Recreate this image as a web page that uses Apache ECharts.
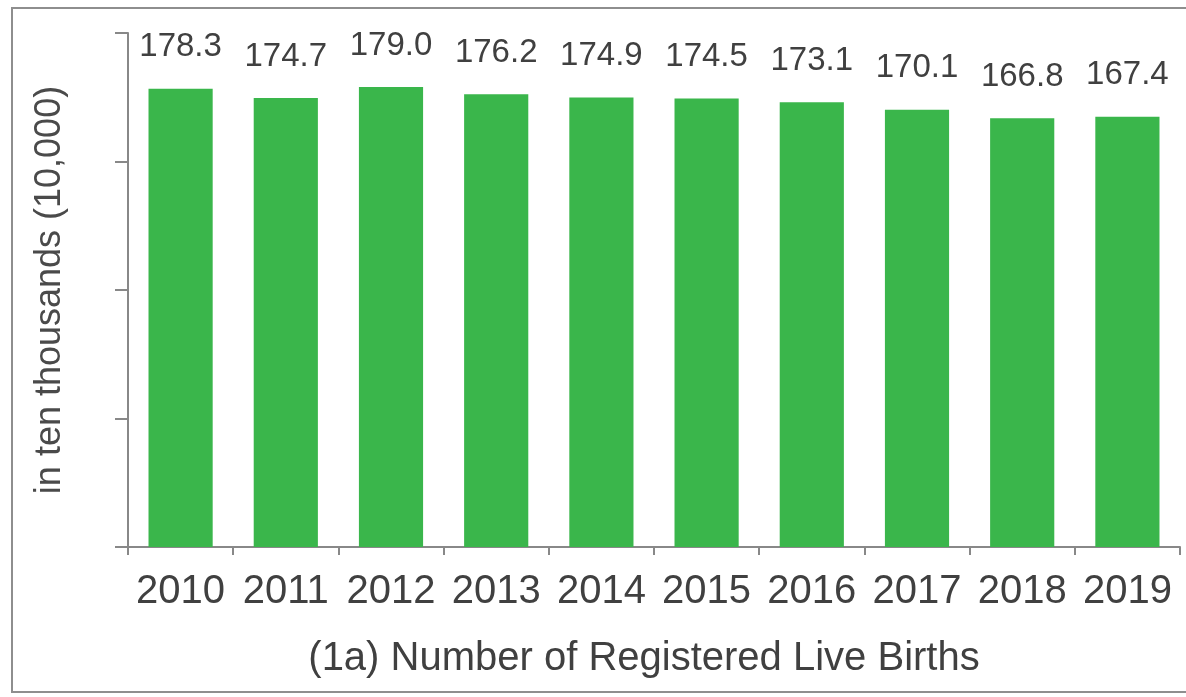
<!DOCTYPE html>
<html>
<head>
<meta charset="utf-8">
<script src="https://cdn.jsdelivr.net/npm/echarts@6/dist/echarts.min.js"></script>
<style>
  html, body { margin: 0; padding: 0; background: #fff; }
  #chart { width: 1186px; height: 697px; }
</style>
</head>
<body>
<div id="chart"></div>
<script>
const years = ['2010', '2011', '2012', '2013', '2014', '2015', '2016', '2017', '2018', '2019'];
const births = [178.3, 174.7, 179.0, 176.2, 174.9, 174.5, 173.1, 170.1, 166.8, 167.4];
const yTicks = [0, 50, 100, 150, 200];

const chart = echarts.init(document.getElementById('chart'));
chart.setOption({
  animation: false,
  textStyle: { fontFamily: 'Liberation Sans, Arial, sans-serif' },
  grid: { left: 128, right: 6, top: 33, bottom: 150 },
  graphic: [
    {
      type: 'rect',
      shape: { x: 12, y: 8, width: 1190, height: 684 },
      style: { fill: 'none', stroke: '#8e8e8e', lineWidth: 2 }
    },
    {
      type: 'text',
      x: 644,
      y: 659,
      style: {
        text: '(1a) Number of Registered Live Births',
        fill: '#404040',
        font: '40px "Liberation Sans", Arial, sans-serif',
        align: 'center',
        verticalAlign: 'middle'
      }
    }
  ],
  xAxis: {
    type: 'category',
    data: years,
    axisLine: { lineStyle: { color: '#888', width: 2 } },
    axisTick: { show: true, length: 8, lineStyle: { color: '#888', width: 2 } },
    axisLabel: { color: '#404040', fontSize: 40, margin: 25, interval: 0, hideOverlap: false }
  },
  yAxis: {
    type: 'value',
    min: yTicks[0],
    max: yTicks[yTicks.length - 1],
    interval: 50,
    name: 'in ten thousands (10,000)',
    nameLocation: 'middle',
    nameGap: 60,
    nameTextStyle: { color: '#4a4a4a', fontSize: 36 },
    axisLine: { show: true, lineStyle: { color: '#888', width: 2 } },
    axisTick: { show: true, length: 13, lineStyle: { color: '#888', width: 2 } },
    axisLabel: { show: false },
    splitLine: { show: false }
  },
  series: [
    {
      type: 'bar',
      data: births,
      barCategoryGap: '39%',
      itemStyle: { color: '#3ab64b' },
      label: {
        show: true,
        position: 'top',
        distance: 25,
        color: '#404040',
        fontSize: 33,
        formatter: p => p.value.toFixed(1)
      }
    }
  ]
});
</script>
</body>
</html>
